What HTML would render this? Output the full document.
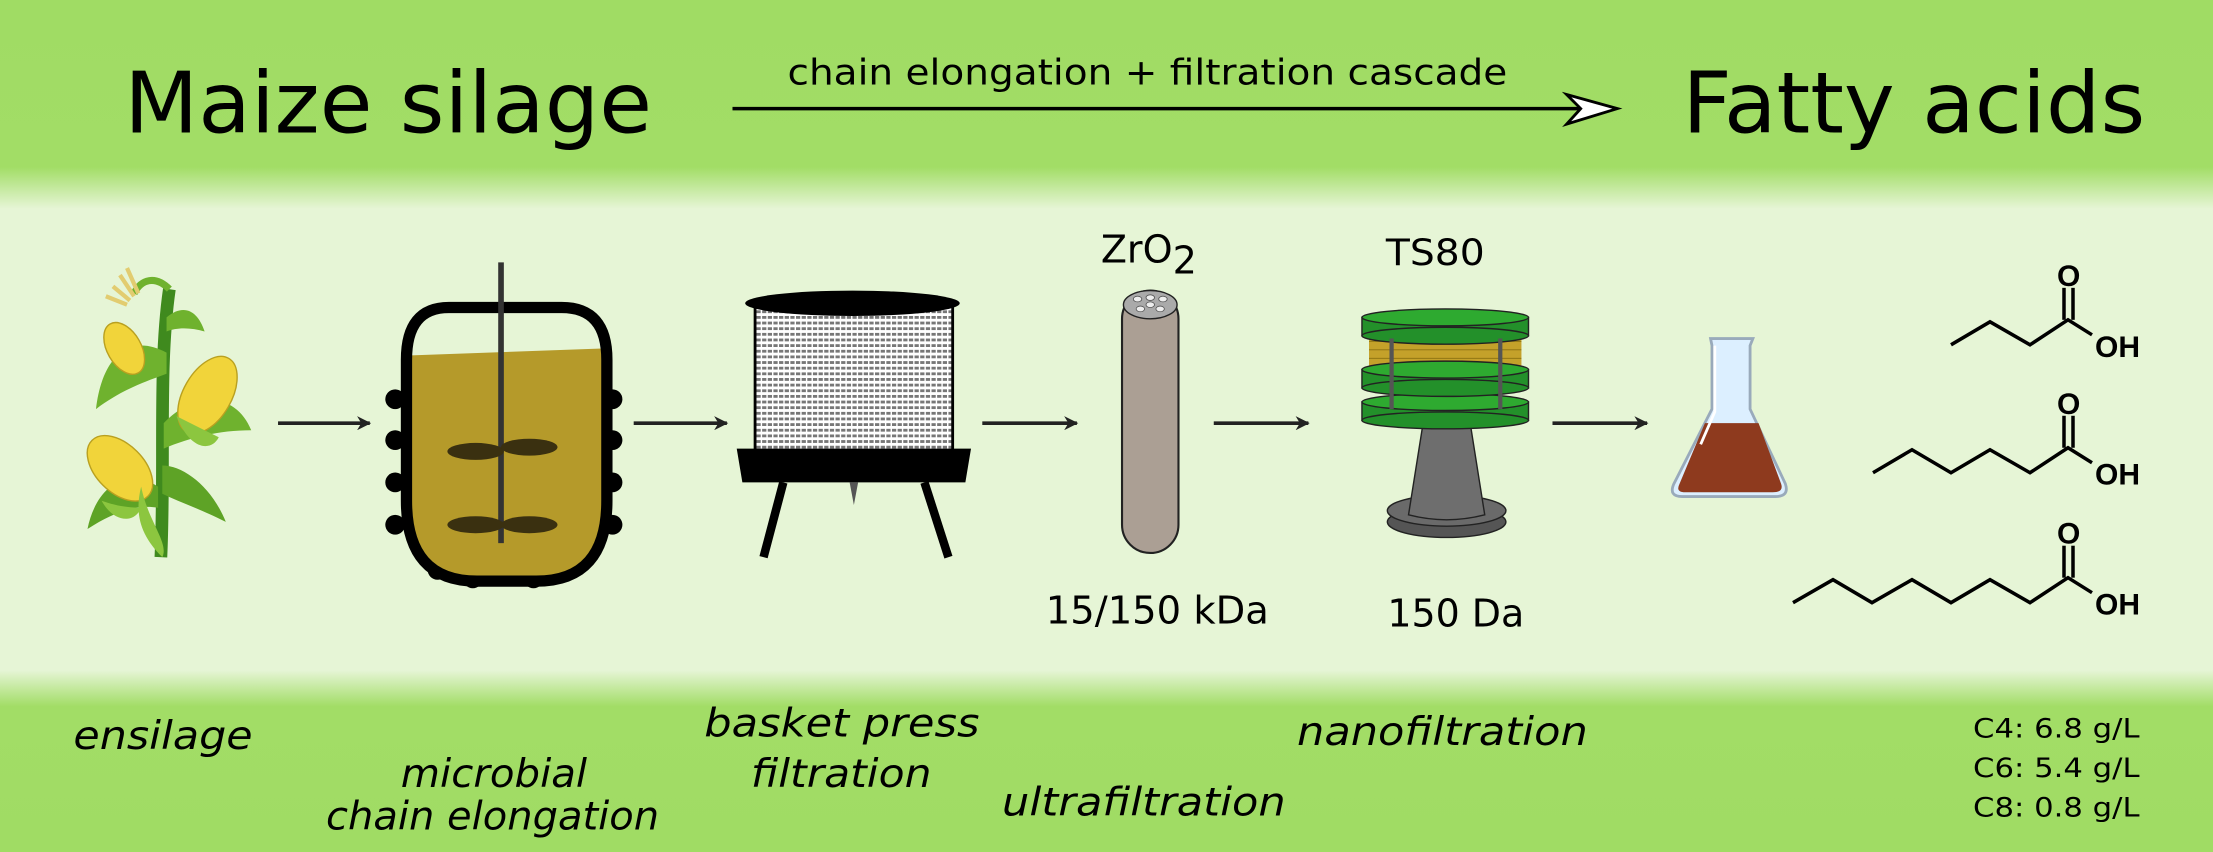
<!DOCTYPE html>
<html><head><meta charset="utf-8"><style>
html,body{margin:0;padding:0;background:#e6f5d6}
svg{display:block}
</style></head><body>
<svg width="2213" height="852" viewBox="0 0 1568 604" xmlns="http://www.w3.org/2000/svg" preserveAspectRatio="none">
<defs>
<linearGradient id="top" x1="0" y1="0" x2="0" y2="1">
<stop offset="0" stop-color="#a0dc64"/><stop offset="0.8" stop-color="#a2dd66"/><stop offset="1" stop-color="#e6f5d6"/>
</linearGradient>
<linearGradient id="bot" x1="0" y1="0" x2="0" y2="1">
<stop offset="0" stop-color="#e6f5d6"/><stop offset="0.2" stop-color="#a2dd66"/><stop offset="1" stop-color="#a0dc64"/>
</linearGradient>
<pattern id="mesh" width="4" height="4" patternUnits="userSpaceOnUse">
<rect width="4" height="4" fill="#fff"/><rect width="3" height="2" fill="#777"/>
</pattern>
<marker id="ah" markerWidth="10" markerHeight="10" refX="9" refY="5" orient="auto" markerUnits="userSpaceOnUse">
<path d="M0,0 L10,5 L0,10 L3,5 Z" fill="#222"/>
</marker>
</defs>
<rect width="1568" height="604" fill="#e6f5d6"/>
<rect width="1568" height="148" fill="url(#top)"/>
<rect y="475" width="1568" height="129" fill="url(#bot)"/>

<g font-family="DejaVu Sans, Liberation Sans, sans-serif" fill="#000">
<text x="88" y="94" font-size="60" textLength="374" lengthAdjust="spacingAndGlyphs">Maize silage</text>
<text x="1192" y="94" font-size="60" textLength="328" lengthAdjust="spacingAndGlyphs">Fatty acids</text>
<text x="558" y="60" font-size="25" textLength="510" lengthAdjust="spacingAndGlyphs">chain elongation + filtration cascade</text>
<text x="780" y="186" font-size="27">ZrO<tspan font-size="27" dy="8">2</tspan></text>
<text x="982" y="188" font-size="26" textLength="70" lengthAdjust="spacingAndGlyphs">TS80</text>
<text x="741" y="442" font-size="27" textLength="158" lengthAdjust="spacingAndGlyphs">15/150 kDa</text>
<text x="983" y="444" font-size="27" textLength="97" lengthAdjust="spacingAndGlyphs">150 Da</text>
<g font-style="italic" font-size="28">
<text x="52" y="531" textLength="127" lengthAdjust="spacingAndGlyphs">ensilage</text>
<text x="284" y="558" textLength="132" lengthAdjust="spacingAndGlyphs">microbial</text>
<text x="231" y="588" textLength="236" lengthAdjust="spacingAndGlyphs">chain elongation</text>
<text x="499" y="522" textLength="195" lengthAdjust="spacingAndGlyphs">basket press</text>
<text x="532" y="558" textLength="128" lengthAdjust="spacingAndGlyphs">filtration</text>
<text x="710" y="578" textLength="201" lengthAdjust="spacingAndGlyphs">ultrafiltration</text>
<text x="919" y="528" textLength="206" lengthAdjust="spacingAndGlyphs">nanofiltration</text>
</g>
<g font-size="19">
<text x="1398" y="523" textLength="118" lengthAdjust="spacingAndGlyphs">C4: 6.8 g/L</text>
<text x="1398" y="551" textLength="118" lengthAdjust="spacingAndGlyphs">C6: 5.4 g/L</text>
<text x="1398" y="579" textLength="118" lengthAdjust="spacingAndGlyphs">C8: 0.8 g/L</text>
</g>
</g>

<line x1="519" y1="77" x2="1140" y2="77" stroke="#000" stroke-width="2.5"/>
<path d="M1110,67 L1146,77 L1110,88 L1120,77 Z" fill="#fff" stroke="#000" stroke-width="2"/>

<g stroke="#222" stroke-width="2.5" marker-end="url(#ah)">
<line x1="197" y1="300" x2="262" y2="300"/>
<line x1="449" y1="300" x2="515" y2="300"/>
<line x1="696" y1="300" x2="763" y2="300"/>
<line x1="860" y1="300" x2="927" y2="300"/>
<line x1="1100" y1="300" x2="1167" y2="300"/>
</g>

<!-- corn -->
<g>
<path d="M114,395 C117,330 112,260 120,205" stroke="#3f8a1e" stroke-width="9" fill="none"/>
<path d="M118,250 C90,235 72,255 68,290 C88,275 105,270 118,265Z" fill="#6fb22e"/>
<path d="M116,300 C140,275 168,280 178,305 C155,305 135,310 116,318Z" fill="#6fb22e"/>
<path d="M112,345 C90,330 68,345 62,375 C85,360 100,358 112,360Z" fill="#5ea326"/>
<path d="M115,330 C130,330 150,345 160,370 C140,360 125,355 115,350Z" fill="#5ea326"/>
<path d="M118,225 C130,215 140,220 145,235 C135,232 125,232 118,235Z" fill="#6fb22e"/>
<ellipse cx="147" cy="280" rx="17" ry="30" transform="rotate(30 147 280)" fill="#f1d43a" stroke="#b9a020"/>
<ellipse cx="88" cy="247" rx="12" ry="20" transform="rotate(-30 88 247)" fill="#f1d43a" stroke="#b9a020"/>
<ellipse cx="85" cy="332" rx="17" ry="28" transform="rotate(-45 85 332)" fill="#f1d43a" stroke="#b9a020"/>
<path d="M125,295 C135,320 150,320 155,310 C145,305 135,300 125,295Z" fill="#8cc63f"/>
<path d="M100,345 C105,370 120,385 115,395 C100,380 95,365 100,345Z" fill="#8cc63f"/>
<path d="M72,355 C80,370 95,372 100,360 C90,360 80,358 72,355Z" fill="#8cc63f"/>
<path d="M120,205 C110,195 100,198 95,208" stroke="#6fb22e" stroke-width="5" fill="none"/>
<path d="M85,195 L95,210 M80,203 L92,213 M90,190 L98,208 M75,210 L90,216" stroke="#e2cc70" stroke-width="3"/>
</g>

<!-- reactor -->
<g>
<g fill="#000">
<circle cx="280" cy="283" r="7"/><circle cx="280" cy="312" r="7"/><circle cx="280" cy="342" r="7"/><circle cx="280" cy="372" r="7"/>
<circle cx="434" cy="283" r="7"/><circle cx="434" cy="312" r="7"/><circle cx="434" cy="342" r="7"/><circle cx="434" cy="372" r="7"/>
<circle cx="310" cy="404" r="7"/><circle cx="335" cy="410" r="7"/><circle cx="378" cy="410" r="7"/><circle cx="404" cy="404" r="7"/>
</g>
<path d="M289,252 L429,247 L429,360 Q429,410 380,410 L335,410 Q289,410 289,360 Z" fill="#b59a2a"/>
<path d="M288,255 Q288,218 318,218 L398,218 Q430,218 430,255 L430,355 Q430,412 380,412 L338,412 Q288,412 288,355 Z" fill="none" stroke="#000" stroke-width="8"/>
<line x1="355" y1="186" x2="355" y2="385" stroke="#333" stroke-width="4"/>
<ellipse cx="337" cy="320" rx="20" ry="6" fill="#3a3010"/><ellipse cx="375" cy="317" rx="20" ry="6" fill="#3a3010"/>
<ellipse cx="337" cy="372" rx="20" ry="6" fill="#3a3010"/><ellipse cx="375" cy="372" rx="20" ry="6" fill="#3a3010"/>
</g>

<!-- basket press -->
<g>
<rect x="535" y="215" width="140" height="115" fill="url(#mesh)" stroke="#000" stroke-width="2"/>
<ellipse cx="604" cy="215" rx="76" ry="9" fill="#000"/>
<path d="M522,318 L688,318 L684,342 L526,342 Z" fill="#000"/>
<path d="M602,342 L608,342 L605,358 Z" fill="#555"/>
<line x1="555" y1="342" x2="541" y2="395" stroke="#000" stroke-width="6"/>
<line x1="655" y1="342" x2="672" y2="395" stroke="#000" stroke-width="6"/>
</g>

<!-- ZrO2 column -->
<g>
<rect x="795" y="206" width="40" height="186" rx="20" fill="#ab9f94" stroke="#222" stroke-width="1.5"/>
<ellipse cx="815" cy="216" rx="19" ry="10" fill="#aaa" stroke="#222" stroke-width="1"/>
<g fill="#eee" stroke="#555" stroke-width="0.6">
<ellipse cx="806" cy="212" rx="3" ry="2"/><ellipse cx="815" cy="211" rx="3" ry="2"/><ellipse cx="824" cy="212" rx="3" ry="2"/>
<ellipse cx="808" cy="219" rx="3" ry="2"/><ellipse cx="815" cy="216" rx="3" ry="2"/><ellipse cx="822" cy="219" rx="3" ry="2"/>
</g>
</g>

<!-- TS80 -->
<g stroke="#222" stroke-width="1">
<ellipse cx="1025" cy="370" rx="42" ry="11" fill="#555"/>
<ellipse cx="1025" cy="362" rx="42" ry="11" fill="#6a6a6a"/>
<path d="M1008,302 L1042,302 L1052,365 Q1025,372 998,365 Z" fill="#6e6e6e"/>
<rect x="1016" y="270" width="17" height="22" fill="#666"/>
<rect x="965" y="285" width="118" height="13" fill="#23902a"/>
<ellipse cx="1024" cy="298" rx="59" ry="6" fill="#23902a"/>
<ellipse cx="1024" cy="285" rx="59" ry="6" fill="#2eaa30"/>
<rect x="970" y="236" width="108" height="28" fill="#c4a12a" stroke="none"/>
<g stroke="#8a7010" stroke-width="0.6">
<line x1="970" y1="242" x2="1078" y2="242"/><line x1="970" y1="248" x2="1078" y2="248"/><line x1="970" y1="254" x2="1078" y2="254"/><line x1="970" y1="260" x2="1078" y2="260"/>
</g>
<rect x="965" y="262" width="118" height="13" fill="#23902a"/>
<ellipse cx="1024" cy="275" rx="59" ry="6" fill="#23902a"/>
<ellipse cx="1024" cy="262" rx="59" ry="6" fill="#2eaa30"/>
<rect x="965" y="225" width="118" height="13" fill="#23902a"/>
<ellipse cx="1024" cy="238" rx="59" ry="6" fill="#23902a"/>
<ellipse cx="1024" cy="225" rx="59" ry="6" fill="#2eaa30"/>
<line x1="986" y1="240" x2="986" y2="290" stroke="#555" stroke-width="3"/>
<line x1="1063" y1="240" x2="1063" y2="290" stroke="#555" stroke-width="3"/>
</g>

<!-- flask -->
<g>
<path d="M1212,240 L1242,240 L1240,245 L1240,290 L1265,343 Q1268,352 1258,352 L1192,352 Q1182,352 1186,343 L1213,290 L1213,245 Z" fill="#dcefff" stroke="#9ab" stroke-width="2"/>
<path d="M1208,300 L1246,300 L1262,343 Q1264,349 1256,349 L1194,349 Q1187,349 1190,343 Z" fill="#8e3a1e"/>
<path d="M1215,245 L1215,292 L1205,315" stroke="#fff" stroke-width="2" fill="none"/>
</g>

<!-- molecules -->
<g transform="scale(0.70854)" fill="none" stroke="#000" stroke-width="3.5">
<polyline points="1951,345 1990,322 2030,345 2068,320 2092,335"/>
<line x1="2064" y1="320" x2="2064" y2="288"/><line x1="2073" y1="320" x2="2073" y2="288"/>
<polyline points="1873,473 1912,450 1951,473 1990,450 2030,473 2068,448 2092,463"/>
<line x1="2064" y1="448" x2="2064" y2="416"/><line x1="2073" y1="448" x2="2073" y2="416"/>
<polyline points="1793,603 1833,580 1872,603 1912,580 1951,603 1990,580 2030,603 2068,578 2092,593"/>
<line x1="2064" y1="578" x2="2064" y2="546"/><line x1="2073" y1="578" x2="2073" y2="546"/>
<g font-family="Liberation Sans, sans-serif" font-weight="bold" font-size="30" fill="#000" stroke="none">
<text x="2057" y="286">O</text><text x="2095" y="357">OH</text>
<text x="2057" y="414">O</text><text x="2095" y="485">OH</text>
<text x="2057" y="544">O</text><text x="2095" y="615">OH</text>
</g>
</g>
</svg>
</body></html>
